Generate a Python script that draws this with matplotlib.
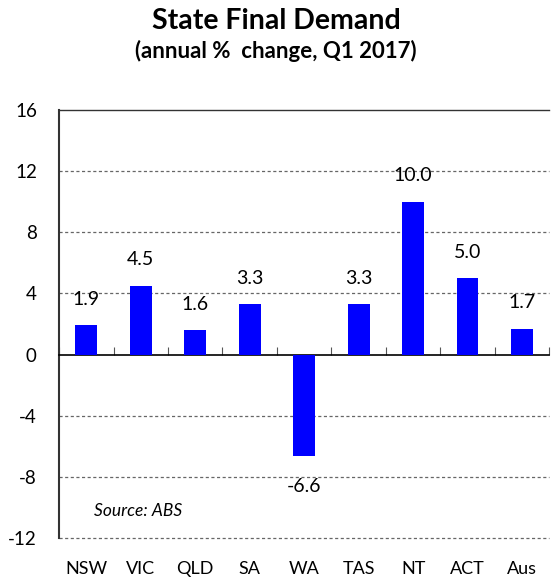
import matplotlib.pyplot as plt
import numpy as np

plt.rcParams['font.family'] = ['Lato', 'DejaVu Sans']
plt.rcParams['axes.unicode_minus'] = False

states = ['NSW', 'VIC', 'QLD', 'SA', 'WA', 'TAS', 'NT', 'ACT', 'Aus']
values = [1.9, 4.5, 1.6, 3.3, -6.6, 3.3, 10.0, 5.0, 1.7]
yticks = [-12, -8, -4, 0, 4, 8, 12, 16]

fig = plt.figure(figsize=(5.52, 5.78), dpi=100)
ax = fig.add_axes([0.107, 0.069, 0.888, 0.741])

x = np.arange(len(states))
ax.bar(x, values, width=0.4, color='#0000ff', zorder=3)

ax.set_xlim(-0.5, len(states) - 0.5)
ax.set_ylim(-12, 16)
ax.set_yticks(yticks)
ax.tick_params(axis='y', length=0, pad=16, labelsize=13.5)

# dashed gridlines
for t in yticks:
    if t in (0, 16):
        continue
    ax.axhline(t, color='#666666', lw=0.9, ls=(0, (2.5, 2)), zorder=1, clip_on=False)

# zero axis with tick marks between categories
ax.spines['bottom'].set_position(('data', 0))
ax.spines['bottom'].set_color('black')
ax.spines['bottom'].set_linewidth(1.2)
ax.set_xticks(np.arange(-0.5, len(states) - 0.4, 1.0))
ax.tick_params(axis='x', direction='in', length=6, width=0.8, color='#555555', labelbottom=False)

ax.spines['right'].set_visible(False)
ax.spines['top'].set_color('#333333')
ax.spines['top'].set_linewidth(1.0)
ax.spines['left'].set_color('#333333')
ax.spines['left'].set_linewidth(1.5)

# category labels below plot
for i, s in enumerate(states):
    ax.text(i, -0.071, s, transform=ax.get_xaxis_transform(), ha='center', va='center', fontsize=13)

# value labels
for i, v in enumerate(values):
    off = 1.7 if v >= 0 else -2.05
    ax.text(i, v + off, f'{v:.1f}', ha='center', va='center', fontsize=14, zorder=4)

ax.text(0.15, -10.2, 'Source: ABS', style='italic', fontsize=12.5, ha='left', va='center')

fig.text(0.5, 0.963, 'State Final Demand', ha='center', va='center', fontsize=20.5, fontweight='bold')
fig.text(0.5, 0.912, '(annual %  change, Q1 2017)', ha='center', va='center', fontsize=16, fontweight='bold')

fig.savefig('out.png', dpi=100)
